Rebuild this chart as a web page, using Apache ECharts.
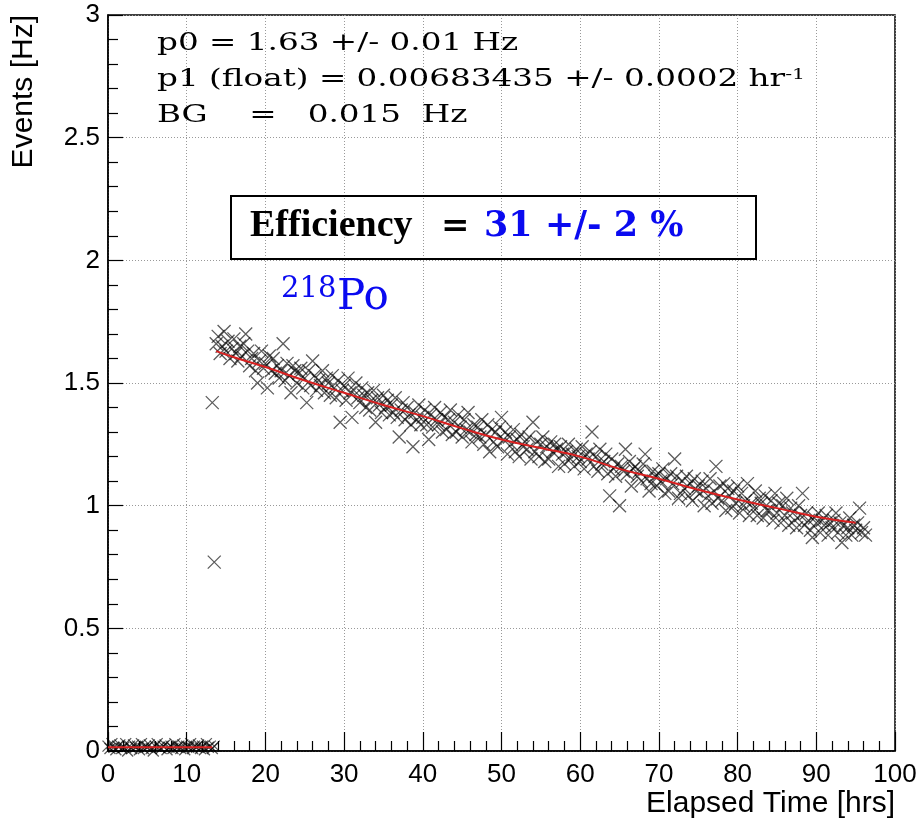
<!DOCTYPE html>
<html>
<head>
<meta charset="utf-8">
<script src="https://cdn.jsdelivr.net/npm/echarts@6/dist/echarts.min.js"></script>
<style>
  html, body { margin: 0; padding: 0; background: #fff; }
  #chart { width: 922px; height: 822px; }
</style>
</head>
<body>
<div id="chart"></div>
<script>
// background run, one reading every 15 min from t = 0
const bgStart = 0;
const bgStep = 0.25;
const bgRate = [
  0.020, 0.010, 0.030, 0.015, 0.005, 0.020, 0.025, 0.010, 0.015, 0.030,
  0.000, 0.020, 0.010, 0.025, 0.015, 0.020, 0.005, 0.030, 0.010, 0.020,
  0.015, 0.025, 0.010, 0.000, 0.020, 0.030, 0.015, 0.010, 0.020, 0.025,
  0.005, 0.015, 0.020, 0.010, 0.030, 0.015, 0.020, 0.010, 0.025, 0.005,
  0.020, 0.015, 0.030, 0.010, 0.020, 0.015, 0.025, 0.010, 0.020, 0.005,
  0.030, 0.015, 0.020, 0.010, 0.020
];

// 218Po run, one reading every 15 min from t = 13.25 hrs
const decayStart = 13.25;
const decayStep = 0.25;
const decayRate = [
  1.42, 0.77, 1.66,
  1.69, 1.62, 1.65, 1.71,  1.63, 1.67, 1.60, 1.64,  1.68, 1.62, 1.59, 1.65,
  1.61, 1.66, 1.70, 1.63,  1.57, 1.60, 1.62, 1.55,  1.50, 1.59, 1.63, 1.56,
  1.58, 1.48, 1.61, 1.55,  1.60, 1.54, 1.57, 1.52,  1.55, 1.66, 1.51, 1.58,
  1.53, 1.46, 1.57, 1.55,  1.50, 1.54, 1.56, 1.48,  1.52, 1.42, 1.55, 1.49,
  1.59, 1.53, 1.47, 1.51,  1.49, 1.55, 1.46, 1.52,  1.50, 1.45, 1.53, 1.48,
  1.44, 1.51, 1.34, 1.47,  1.49, 1.43, 1.52, 1.46,  1.36, 1.47, 1.50, 1.44,
  1.42, 1.48, 1.45, 1.40,  1.46, 1.39, 1.43, 1.47,  1.34, 1.44, 1.41, 1.38,
  1.45, 1.40, 1.43, 1.37,  1.41, 1.38, 1.44, 1.36,  1.28, 1.39, 1.42, 1.35,
  1.40, 1.37, 1.33, 1.24,  1.38, 1.35, 1.41, 1.33,  1.36, 1.39, 1.33, 1.27,
  1.37, 1.32, 1.40, 1.35,  1.33, 1.38, 1.30, 1.36,  1.31, 1.35, 1.39, 1.29,
  1.34, 1.30, 1.37, 1.32,  1.28, 1.35, 1.31, 1.38,  1.30, 1.26, 1.33, 1.29,
  1.32, 1.28, 1.35, 1.25,  1.29, 1.33, 1.22, 1.31,  1.26, 1.30, 1.24, 1.32,
  1.36, 1.27, 1.30, 1.21,  1.28, 1.25, 1.31, 1.22,  1.27, 1.20, 1.29, 1.24,
  1.26, 1.23, 1.28, 1.19,  1.34, 1.22, 1.26, 1.20,  1.25, 1.28, 1.18, 1.24,
  1.19, 1.26, 1.22, 1.25,  1.23, 1.16, 1.24, 1.21,  1.17, 1.22, 1.25, 1.19,
  1.21, 1.16, 1.23, 1.20,  1.18, 1.24, 1.15, 1.21,  1.19, 1.22, 1.30, 1.16,
  1.20, 1.14, 1.23, 1.17,  1.18, 1.21, 1.13, 1.04,  1.19, 1.15, 1.12, 1.17,
  1.00, 1.16, 1.14, 1.23,  1.13, 1.18, 1.08, 1.15,  1.16, 1.12, 1.14, 1.10,
  1.17, 1.21, 1.11, 1.06,  1.09, 1.14, 1.12, 1.08,  1.13, 1.10, 1.15, 1.05,
  1.11, 1.06, 1.13, 1.09,  1.19, 1.12, 1.03, 1.05,  1.10, 1.07, 1.12, 1.04,
  1.09, 1.02, 1.11, 1.06,  1.08, 1.05, 1.10, 1.00,  1.07, 1.04, 1.11, 1.01,
  1.06, 1.16, 1.03, 1.08,  1.02, 1.09, 0.98, 1.07,  1.04, 0.99, 1.06, 1.01,
  1.08, 0.97, 1.05, 1.00,  1.02, 1.09, 0.96, 1.01,  0.99, 1.06, 0.96, 1.03,
  1.01, 0.95, 1.04, 0.98,  0.98, 1.02, 0.94, 1.05,  0.97, 1.01, 0.93, 1.00,
  0.96, 1.03, 0.92, 0.99,  0.97, 0.94, 0.91, 1.00,  0.96, 1.05, 0.92, 0.97,
  0.94, 0.90, 0.87, 0.95,  0.93, 0.97, 0.89, 0.94,  0.92, 0.96, 0.88, 0.93,
  0.91, 0.94, 0.97, 0.89,  0.93, 0.85, 0.92, 0.88,  0.91, 0.95, 0.88, 0.92,
  0.90, 0.93, 0.99, 0.89,  0.91, 0.88
];

// red fit curve
const fitTime = [13.75, 16, 20, 25, 30, 35, 40, 45, 50, 55, 60, 65, 70, 75, 80, 85, 90, 95];
const fitRate = [1.63, 1.605, 1.565, 1.51, 1.46, 1.41, 1.365, 1.315, 1.27, 1.235, 1.20, 1.15, 1.11, 1.065, 1.025, 0.99, 0.955, 0.93];
const bgFitTime = [0, 13.25];
const bgFitRate = [0.015, 0.015];

const fitLines = [
  'p0 = 1.63 +/- 0.01 Hz',
  'p1 (float) = 0.00683435 +/- 0.0002 hr{sup|-1}',
  'BG    =   0.015  Hz'
];

const bgData = bgRate.map((v, i) => [bgStart + i * bgStep, v]);
const decayData = decayRate.map((v, i) => [decayStart + i * decayStep, v]);
const fitData = fitTime.map((t, i) => [t, fitRate[i]]);
const bgFitData = bgFitTime.map((t, i) => [t, bgFitRate[i]]);

const chart = echarts.init(document.getElementById('chart'));

const cross = 'path://M0,0L10,10M10,0L0,10';
const markerStyle = { color: 'transparent', borderColor: 'rgba(0,0,0,0.8)', borderWidth: 1.3 };
const sans = 'Liberation Sans';
const serif = '"DejaVu Serif"';
// the fit box text in the original is stretched sideways
const stretch = 1.36;

function fitText(y, text) {
  return {
    type: 'text', x: 157, y: y, z: 10, scaleX: stretch,
    style: {
      text: text, font: '24px ' + serif, fill: '#000',
      verticalAlign: 'middle', textVerticalAlign: 'middle',
      rich: { sup: { font: '15px ' + serif, fill: '#000', verticalAlign: 'top' } }
    }
  };
}

const option = {
  animation: false,
  backgroundColor: '#fff',
  grid: {
    left: 108, right: 27, top: 15, bottom: 71,
    show: true, borderColor: '#000', borderWidth: 1.5
  },
  xAxis: {
    type: 'value', min: 0, max: 100, interval: 10,
    axisLine: { onZero: false, lineStyle: { color: '#000', width: 1.5 } },
    axisTick: { inside: true, length: 19, lineStyle: { color: '#000', width: 1.2 } },
    minorTick: { show: true, splitNumber: 5, length: 10, lineStyle: { color: '#000', width: 1.2 } },
    splitLine: { show: true, lineStyle: { color: '#999', type: [1, 2], width: 1 } },
    axisLabel: { color: '#000', fontSize: 26, fontFamily: sans, margin: 11, showMinLabel: true, showMaxLabel: true },
    name: 'Elapsed Time [hrs]', nameLocation: 'end', nameGap: 0,
    nameTextStyle: { color: '#000', fontSize: 30, fontFamily: sans, align: 'right', verticalAlign: 'top', padding: [38, 0, 0, 0] }
  },
  yAxis: {
    type: 'value', min: 0, max: 3, interval: 0.5,
    axisLine: { onZero: false, lineStyle: { color: '#000', width: 1.5 } },
    axisTick: { inside: true, length: 15, lineStyle: { color: '#000', width: 1.2 } },
    minorTick: { show: true, splitNumber: 5, length: 10, lineStyle: { color: '#000', width: 1.2 } },
    splitLine: { show: true, lineStyle: { color: '#999', type: [1, 2], width: 1 } },
    axisLabel: { color: '#000', fontSize: 26, fontFamily: sans, margin: 8, showMinLabel: true, showMaxLabel: true },
    name: 'Events [Hz]', nameLocation: 'end', nameGap: 0, nameRotate: 90,
    nameTextStyle: { color: '#000', fontSize: 30, fontFamily: sans, align: 'right', verticalAlign: 'bottom', padding: [0, 0, 69, 0] }
  },
  series: [
    {
      name: 'background', type: 'scatter', data: bgData,
      symbol: cross, symbolSize: 11, itemStyle: markerStyle, z: 2
    },
    {
      name: '218Po', type: 'scatter', data: decayData,
      symbol: cross, symbolSize: 13, itemStyle: markerStyle, z: 2
    },
    {
      name: 'fit', type: 'line', data: fitData, showSymbol: false, smooth: true,
      lineStyle: { color: '#d82020', width: 2 }, z: 3
    },
    {
      name: 'bg fit', type: 'line', data: bgFitData, showSymbol: false,
      lineStyle: { color: '#d82020', width: 2 }, z: 3
    }
  ],
  graphic: [
    fitText(44, fitLines[0]),
    fitText(80, fitLines[1]),
    fitText(116, fitLines[2]),
    {
      type: 'rect', z: 10,
      shape: { x: 231, y: 196, width: 525, height: 63 },
      style: { fill: 'none', stroke: '#000', lineWidth: 2 }
    },
    {
      type: 'text', x: 250, y: 226, z: 10,
      style: { text: 'Efficiency', font: 'bold 38px "Liberation Serif"', fill: '#000', verticalAlign: 'middle', textVerticalAlign: 'middle' }
    },
    {
      type: 'text', x: 441, y: 227, z: 10,
      style: { text: '=', font: 'bold 34px ' + serif, fill: '#000', verticalAlign: 'middle', textVerticalAlign: 'middle' }
    },
    {
      type: 'text', x: 484, y: 227, z: 10,
      style: { text: '31 +/- 2 %', font: 'bold 35px ' + serif, fill: '#0a0af0', verticalAlign: 'middle', textVerticalAlign: 'middle' }
    },
    {
      type: 'text', x: 281, y: 289, z: 10,
      style: { text: '218', font: '29px ' + serif, fill: '#0a0af0', verticalAlign: 'middle', textVerticalAlign: 'middle' }
    },
    {
      type: 'text', x: 337, y: 298, z: 10,
      style: { text: 'Po', font: '42px ' + serif, fill: '#0a0af0', verticalAlign: 'middle', textVerticalAlign: 'middle' }
    }
  ]
};

chart.setOption(option);
</script>
</body>
</html>
